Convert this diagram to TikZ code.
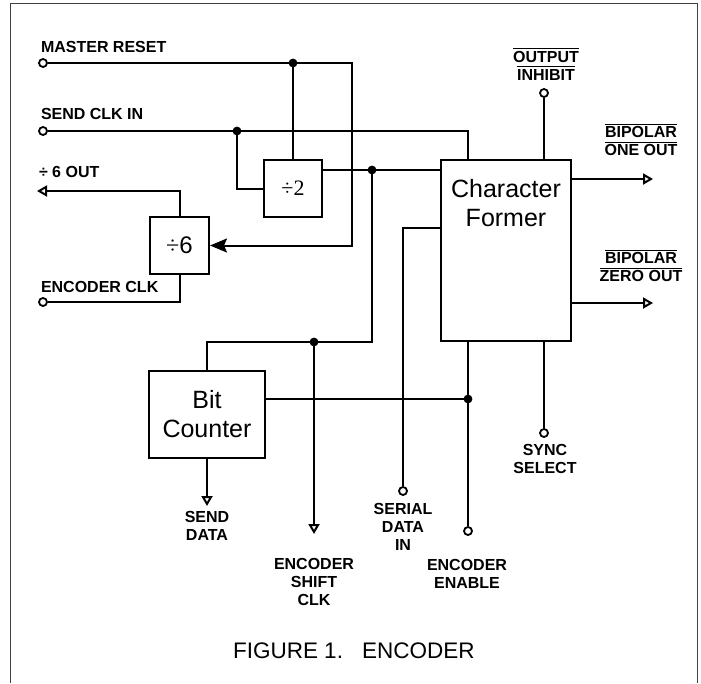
\documentclass[tikz,border=0pt]{standalone}
\usepackage{fontspec}
\setmainfont{Liberation Sans}
\newfontfamily\serifdiv{Liberation Serif}
\usetikzlibrary{arrows.meta,positioning}
\newsavebox\ovlbox
\newcommand{\ovl}[1]{\sbox\ovlbox{#1}\rlap{\rule[\dimexpr\ht\ovlbox+1.6pt\relax]{\wd\ovlbox}{1.4pt}}\usebox\ovlbox}
\begin{document}
\begin{tikzpicture}[x=1pt, y=-1pt, line width=2pt,
  lbl/.style={font=\fontsize{16}{18}\selectfont\bfseries, inner sep=0pt, align=center},
  blk/.style={draw, inner sep=0pt, align=center, font=\fontsize{25}{29}\selectfont},
  term/.style={circle, draw, fill=white, inner sep=0pt, minimum size=8pt, line width=1.8pt},
  opn/.style={-{Triangle[open, length=10pt, width=11pt, fill=white]}},
  sharp/.style={-{Stealth[length=17pt, width=14pt, inset=3pt]}}]
\useasboundingbox (0,0) rectangle (701,683);
\draw[line width=1.4pt, black!75] (10.5,683) |- (697.5,3.5) -- (697.5,683);
% blocks
\node[blk, minimum width=58pt, minimum height=57pt, font=\serifdiv\fontsize{22}{25}\selectfont] (div2) at (293,188.5) {÷2};
\node[blk, minimum width=59pt, minimum height=57pt, font=\fontsize{24}{27}\selectfont] (div6) at (179.5,245.5) {{\serifdiv ÷}6};
\node[blk, minimum width=130pt, minimum height=181pt] (cf) at (506,250.5) {};
\node[blk, draw=none, anchor=north] (cft) at ([yshift=-19pt]cf.north) {Character\\Former};
\node[blk, minimum width=116pt, minimum height=87pt] (bc) at (207,414.5) {Bit\\Counter};
% terminals
\node[term] (mr) at (43,63) {};
\node[term] (sck) at (43,131) {};
\node[term] (ecl) at (43,302) {};
\node[term] (oi) at (544,93) {};
\node[term] (sdi) at (403,491) {};
\node[term] (ee) at (468,531) {};
\node[term] (ss) at (544,433) {};
\coordinate (rc) at (352,63);
\coordinate (o6) at (37,191);
\coordinate (b1) at (653,179);
\coordinate (b0) at (653,303);
\coordinate (sd) at (207,506);
\coordinate (esc) at (314,534);
\coordinate (d1) at (293,63);
\coordinate (d2) at (237,131);
\coordinate (d3) at (372,170);
\coordinate (d4) at (314,342);
\coordinate (d5) at (468,399);
% connectors
\draw[sharp] (mr) -- (rc) |- (div6);
\draw (d1) -- (d1 |- div2.north);
\draw (sck) -| ([xshift=-38pt]cf.north);
\draw (d2) |- (div2);
\draw (d3 -| div2.east) -- (d3 -| cf.west);
\draw (d3) |- (bc.north |- d4) -- (bc.north);
\draw[opn] (d4) -- (esc);
\draw (bc.east |- d5) -- (d5);
\draw[opn] (bc.south) -- (sd);
\draw (ee |- cf.south) -- (ee);
\draw (sdi) |- ([yshift=22.5pt]cf.west);
\draw (oi) -- (oi |- cf.north);
\draw (ss) -- (ss |- cf.south);
\draw[opn] (b1 -| cf.east) -- (b1);
\draw[opn] (b0 -| cf.east) -- (b0);
\draw[opn] (div6.north) |- (o6);
\draw (ecl) -| (div6.south);
\foreach \n in {d1,d2,d3,d4,d5}
  \fill (\n) circle (4.4pt);
% labels
\node[lbl, anchor=base west] (mrl) at (40,52) {MASTER RESET};
\node[lbl, anchor=base west] (sckl) at (40,119) {SEND CLK IN};
\node[lbl, anchor=base west] (o6l) at (38,177) {÷ 6 OUT};
\node[lbl, anchor=base west] (ecll) at (40,292) {ENCODER CLK};
\node[lbl, anchor=south] (oil) at (546,81) {\ovl{OUTPUT}\\\ovl{INHIBIT}};
\node[lbl, anchor=south] (b1l) at (641,157) {\ovl{BIPOLAR}\\\ovl{ONE OUT}};
\node[lbl, anchor=south] (b0l) at (641,283) {\ovl{BIPOLAR}\\\ovl{ZERO OUT}};
\node[lbl, anchor=south] (sdl) at (207,541) {SEND\\DATA};
\node[lbl, anchor=south] (escl) at (314,607) {ENCODER\\SHIFT\\CLK};
\node[lbl, anchor=south] (sdil) at (403,551) {SERIAL\\DATA\\IN};
\node[lbl, anchor=south] (eel) at (467,589) {ENCODER\\ENABLE};
\node[lbl, anchor=south] (ssl) at (545,475) {SYNC\\SELECT};
\node[anchor=base west, inner sep=0pt, font=\fontsize{22.5}{27}\selectfont] (cap) at (232,658) {FIGURE 1.\hspace{19pt}ENCODER};
\end{tikzpicture}
\end{document}
